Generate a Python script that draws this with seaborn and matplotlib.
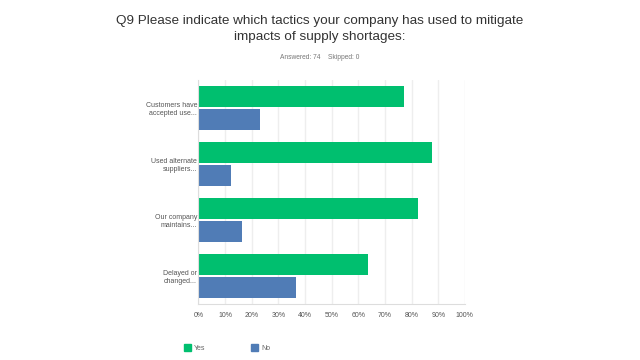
import matplotlib
matplotlib.use("Agg")
import matplotlib.pyplot as plt
import seaborn as sns
import pandas as pd
from matplotlib.ticker import PercentFormatter
from matplotlib.patches import Patch

categories = ["Customers have\naccepted use...", "Used alternate\nsuppliers...",
              "Our company\nmaintains...", "Delayed or\nchanged..."]
yes_values = [77.03, 87.84, 82.43, 63.51]
no_values = [22.97, 12.16, 16.22, 36.49]
series = ["Yes", "No"]
colors = ["#00BF6F", "#507CB6"]
x_ticks = [0, 10, 20, 30, 40, 50, 60, 70, 80, 90, 100]

df = pd.DataFrame({
    "category": categories * 2,
    "answer": ["Yes"] * len(categories) + ["No"] * len(categories),
    "value": yes_values + no_values,
})

sns.set_theme(style="white")
plt.rcParams["font.family"] = ["Liberation Sans", "DejaVu Sans"]

fig = plt.figure(figsize=(6.4, 3.6), dpi=100)
ax = fig.add_axes([0.310, 0.1556, 0.4164, 0.6222])

sns.barplot(data=df, y="category", x="value", hue="answer", order=categories,
            hue_order=series, palette=colors, orient="h", width=0.8,
            saturation=1, ax=ax, legend=False, linewidth=0)

# small gap between paired bars
for p in ax.patches:
    h = p.get_height()
    nh = h * 0.93
    p.set_y(p.get_y() + (h - nh) / 2)
    p.set_height(nh)

ax.set_xlim(0, 100)
ax.set_xticks(x_ticks)
ax.xaxis.set_major_formatter(PercentFormatter(decimals=0))
ax.grid(axis="x", color="#eeeeee", linewidth=1)
ax.set_axisbelow(True)
ax.set_xlabel("")
ax.set_ylabel("")
for s in ["top", "right"]:
    ax.spines[s].set_visible(False)
ax.spines["left"].set_color("#dddddd")
ax.spines["bottom"].set_color("#dddddd")
ax.spines["left"].set_linewidth(0.8)
ax.spines["bottom"].set_linewidth(0.8)
ax.tick_params(axis="x", labelsize=5, colors="#555555", length=0, pad=6)
ax.tick_params(axis="y", labelsize=5, colors="#555555", length=0, pad=1)
for lab in ax.get_yticklabels():
    lab.set_multialignment("right")

fig.text(0.5, 0.943, "Q9 Please indicate which tactics your company has used to mitigate",
         ha="center", va="center", fontsize=9.7, color="#333333")
fig.text(0.5, 0.898, "impacts of supply shortages:",
         ha="center", va="center", fontsize=9.7, color="#333333")
fig.text(0.5, 0.840, "Answered: 74    Skipped: 0", ha="center", va="center",
         fontsize=4.8, color="#777777")

handles = [Patch(facecolor=c, edgecolor=c, label=l) for c, l in zip(colors, series)]
fig.legend(handles=handles, loc="center", bbox_to_anchor=(0.355, 0.033), ncol=2,
           frameon=False, fontsize=5, labelcolor="#666666", handlelength=1.0,
           handleheight=1.0, columnspacing=6.5, handletextpad=0.5)

fig.savefig("out.png", dpi=100)
